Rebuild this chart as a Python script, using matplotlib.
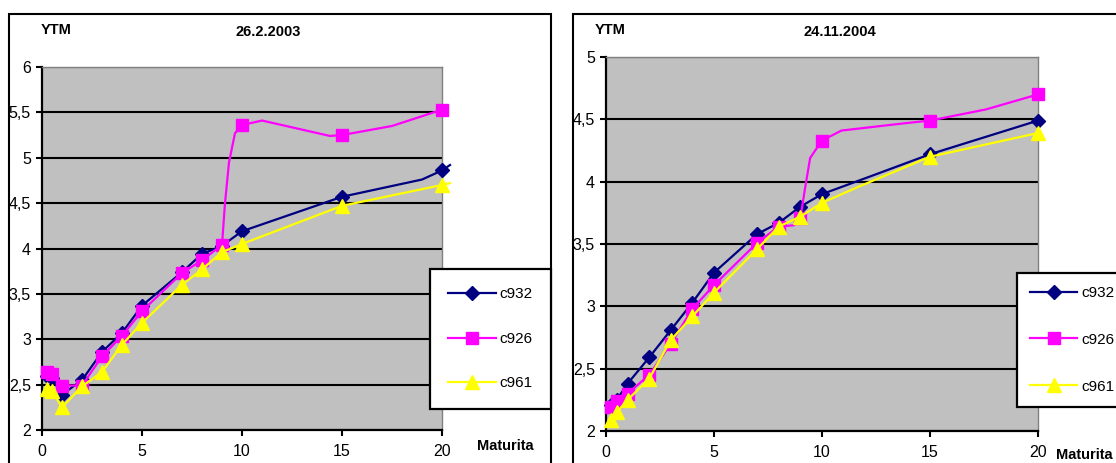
import matplotlib
matplotlib.use("Agg")
import matplotlib.pyplot as plt
import matplotlib.patches as mpatches
from matplotlib.ticker import FuncFormatter, MultipleLocator

plt.rcParams["font.family"] = ["Liberation Sans", "DejaVu Sans"]

# maturities (years) carrying a marker
maturity = [0.25, 0.5, 1, 2, 3, 4, 5, 7, 8, 9, 10, 15, 20]
series_names = ["c932", "c926", "c961"]

# YTM 26.2.2003
c932_2003 = [2.60, 2.57, 2.39, 2.55, 2.86, 3.07, 3.37, 3.74, 3.94, 4.03, 4.19, 4.57, 4.86]
c926_2003 = [2.64, 2.62, 2.49, 2.49, 2.81, 3.04, 3.31, 3.73, 3.87, 4.04, 5.36, 5.25, 5.53]
c961_2003 = [2.45, 2.43, 2.25, 2.48, 2.64, 2.94, 3.18, 3.60, 3.77, 3.96, 4.05, 4.47, 4.70]
# unmarked knots of the smoothed curves
c932_2003_kx, c932_2003_ky = [19, 20.4], [4.76, 4.92]
c926_2003_kx, c926_2003_ky = [9.15, 9.35, 9.65, 11, 14.4, 17.5], [4.50, 4.95, 5.27, 5.41, 5.24, 5.35]
c961_2003_kx, c961_2003_ky = [20.4], [4.72]

# YTM 24.11.2004
c932_2004 = [2.21, 2.25, 2.38, 2.59, 2.81, 3.03, 3.27, 3.58, 3.67, 3.80, 3.90, 4.22, 4.49]
c926_2004 = [2.19, 2.24, 2.30, 2.45, 2.70, 2.98, 3.17, 3.51, 3.64, 3.71, 4.33, 4.49, 4.70]
c961_2004 = [2.09, 2.15, 2.25, 2.42, 2.73, 2.92, 3.11, 3.46, 3.64, 3.72, 3.83, 4.20, 4.39]
c932_2004_kx, c932_2004_ky = [12.2], [4.04]
c926_2004_kx, c926_2004_ky = [8.7, 9.2, 9.45, 10.9, 13.9, 17.6], [3.65, 3.93, 4.19, 4.41, 4.47, 4.58]
c961_2004_kx, c961_2004_ky = [11.7], [3.96]

styles = {
    "c932": dict(color="#000080", marker="D", ms=7.5),
    "c926": dict(color="#FF00FF", marker="s", ms=8.5),
    "c961": dict(color="#FFFF00", marker="^", ms=10),
}

W, H = 1116, 463
fig = plt.figure(figsize=(W / 100, H / 100), dpi=100)


def px_box(x0, y0, x1, y1):
    return [x0 / W, 1 - y1 / H, (x1 - x0) / W, (y1 - y0) / H]


comma = FuncFormatter(lambda v, _: f"{v:g}".replace(".", ","))


def panel(rect, data, ylim, title, title_x, ytm_x, mat_xy, leg_xy, leg_pad, leg_space):
    ax = fig.add_axes(px_box(*rect))
    ax.set_facecolor("#C0C0C0")
    for name in series_names:
        vals, kx, ky = data[name]
        pts = sorted(list(zip(maturity, vals)) + list(zip(kx, ky)))
        xs = [p[0] for p in pts]
        ys = [p[1] for p in pts]
        marks = [i for i, x in enumerate(xs) if x in maturity]
        st = styles[name]
        ax.plot(xs, ys, "-", color=st["color"], lw=1.6, marker=st["marker"],
                ms=st["ms"], mfc=st["color"], mec=st["color"], markevery=marks,
                label=name, clip_on=False, zorder=3)
    ax.set_xlim(0, 20)
    ax.set_ylim(*ylim)
    ax.xaxis.set_major_locator(MultipleLocator(5))
    ax.yaxis.set_major_locator(MultipleLocator(0.5))
    ax.yaxis.set_major_formatter(comma)
    ax.grid(axis="y", color="black", lw=1.5, zorder=1)
    ax.set_axisbelow(True)
    for s in ("top", "right"):
        ax.spines[s].set_color("#808080")
        ax.spines[s].set_linewidth(1.0)
    for s in ("left", "bottom"):
        ax.spines[s].set_linewidth(1.6)
    ax.tick_params(axis="both", direction="out", length=4, width=1.5, labelsize=11.5)
    ax.tick_params(axis="x", pad=6)
    ax.tick_params(axis="y", pad=4)

    fig.text(ytm_x / W, 1 - 30 / H, "YTM", fontsize=10.5, fontweight="bold", va="center")
    fig.text(title_x / W, 1 - 32 / H, title, fontsize=10.5, fontweight="bold",
             ha="center", va="center")
    fig.text(mat_xy[0] / W, 1 - mat_xy[1] / H, "Maturita", fontsize=10.5,
             fontweight="bold", va="center")

    leg = fig.legend(handles=ax.get_lines(), loc="upper left",
                     bbox_to_anchor=(leg_xy[0] / W, 1 - leg_xy[1] / H),
                     fontsize=11, frameon=True, fancybox=False, borderaxespad=0,
                     borderpad=leg_pad, handlelength=3.1, handletextpad=0.25,
                     labelspacing=leg_space)
    fr = leg.get_frame()
    fr.set_edgecolor("black")
    fr.set_linewidth(1.6)
    fr.set_alpha(1)
    return ax


# panel outlines
for x0, x1 in ((9, 551), (573, 1130)):
    fig.add_artist(mpatches.Rectangle((x0 / W, -0.05), (x1 - x0) / W, 1.05 - 14 / H,
                                      transform=fig.transFigure, fill=False,
                                      ec="black", lw=1.5, clip_on=False))

panel((42, 67, 442, 430),
      {"c932": (c932_2003, c932_2003_kx, c932_2003_ky),
       "c926": (c926_2003, c926_2003_kx, c926_2003_ky),
       "c961": (c961_2003, c961_2003_kx, c961_2003_ky)},
      (2, 6), "26.2.2003", 268, 41, (477, 446), (430, 269), 1.2, 2.0)

panel((606, 57, 1038, 431),
      {"c932": (c932_2004, c932_2004_kx, c932_2004_ky),
       "c926": (c926_2004, c926_2004_kx, c926_2004_ky),
       "c961": (c961_2004, c961_2004_kx, c961_2004_ky)},
      (2, 5), "24.11.2004", 840, 595, (1056, 455), (1017, 273), 0.85, 2.15)

fig.savefig("out.png", dpi=100)
